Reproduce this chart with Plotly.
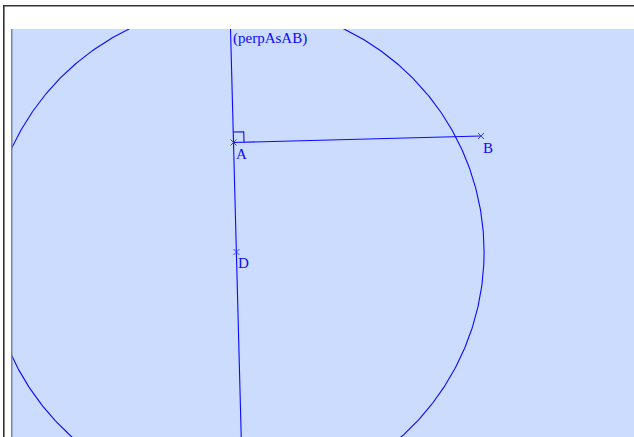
import numpy as np
import plotly.graph_objects as go

# Geometry (units: 1 unit = 10 px on screen)
point_names = ["A", "B", "D"]
point_x = [22.25, 47.0, 22.55]
point_y = [29.45, 30.1, 18.5]
line_label = "(perpAsAB)"
label_dx = [0.05, 0.0, -0.05]      # label offsets (units)
label_dy = [-1.15, -1.2, -1.1]

x_range = [0, 62.3]
y_range = [0, 40.8]

col = "#0a0aff"
fill = "#ccdcff"

A = np.array([point_x[0], point_y[0]])
B = np.array([point_x[1], point_y[1]])
D = np.array([point_x[2], point_y[2]])

u = (B - A) / np.linalg.norm(B - A)
v = np.array([-u[1], u[0]])
if v[1] < 0:
    v = -v
r = np.linalg.norm(B - A)

fig = go.Figure()

# circle centered at D with radius |AB|
t = np.linspace(0, 2 * np.pi, 721)
fig.add_trace(go.Scatter(x=D[0] + r * np.cos(t), y=D[1] + r * np.sin(t), mode="lines",
                         line=dict(color=col, width=1.1), hoverinfo="skip"))
# perpendicular line through A
s = np.array([-60, 60])
fig.add_trace(go.Scatter(x=A[0] + s * v[0], y=A[1] + s * v[1], mode="lines",
                         line=dict(color=col, width=1.1), hoverinfo="skip"))
# segment AB
fig.add_trace(go.Scatter(x=[A[0], B[0]], y=[A[1], B[1]], mode="lines",
                         line=dict(color=col, width=1.1), hoverinfo="skip"))
# right angle mark
q = 1.05
p1 = A + q * u
p2 = A + q * u + q * v
p3 = A + q * v
fig.add_trace(go.Scatter(x=[p1[0], p2[0], p3[0]], y=[p1[1], p2[1], p3[1]], mode="lines",
                         line=dict(color=col, width=1.1), hoverinfo="skip"))
# points
fig.add_trace(go.Scatter(x=point_x, y=point_y, mode="markers",
                         marker=dict(symbol="x-thin", size=6, line=dict(color="#3344ff", width=1)),
                         hoverinfo="skip"))

font = dict(family="Liberation Serif, Times New Roman, serif", size=15, color=col)
for n, x, y, dx, dy in zip(point_names, point_x, point_y, label_dx, label_dy):
    fig.add_annotation(x=x + dx, y=y + dy, text=n, showarrow=False, xanchor="left",
                       yanchor="middle", font=font)
# line label near top of the perpendicular
top_y = y_range[1] - 0.9
top_x = A[0] + (top_y - A[1]) / v[1] * v[0]
fig.add_annotation(x=top_x + 0.05, y=top_y, text=line_label, showarrow=False,
                   xanchor="left", yanchor="middle", font=font)

W, H, L, T = 634, 437, 11, 29
pw, ph = W - L, H - T

def px(p):
    return (p - L) / pw

def py(p):
    return 1 - (p - T) / ph

shapes = [
    dict(type="line", xref="paper", yref="paper", x0=px(3.8), x1=px(3.8), y0=py(5), y1=py(437),
         line=dict(color="#333333", width=1.6)),
    dict(type="line", xref="paper", yref="paper", x0=px(3), x1=px(634), y0=py(5.8), y1=py(5.8),
         line=dict(color="#333333", width=1.6)),
    dict(type="line", xref="paper", yref="paper", x0=px(11.8), x1=px(11.8), y0=py(29), y1=py(437),
         line=dict(color="#6f86a8", width=1.5)),
]

fig.update_layout(
    width=W, height=H,
    margin=dict(l=L, r=0, t=T, b=0, pad=0),
    paper_bgcolor="white", plot_bgcolor=fill,
    showlegend=False, shapes=shapes,
    xaxis=dict(range=x_range, visible=False, fixedrange=True),
    yaxis=dict(range=y_range, visible=False, fixedrange=True),
)

fig.write_html("out.html", config={"displayModeBar": False},
               post_script="document.body.style.margin='0';document.body.style.overflow='hidden';")
